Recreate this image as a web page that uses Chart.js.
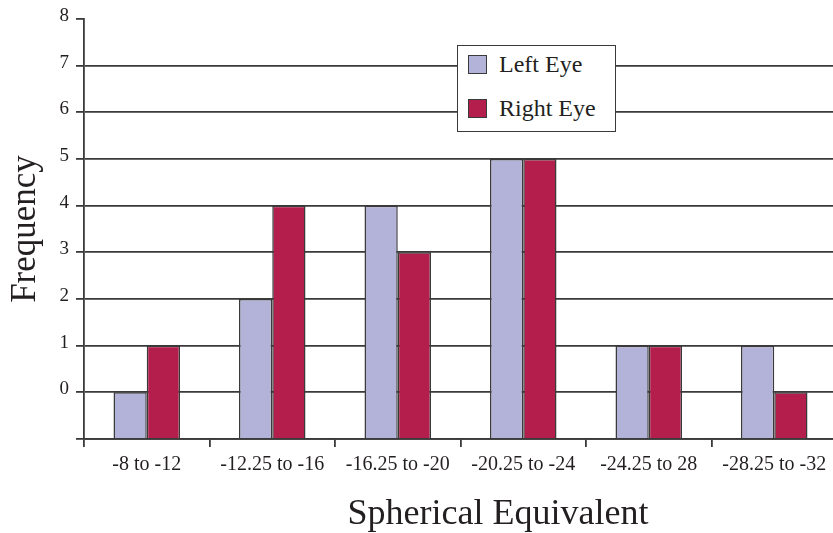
<!DOCTYPE html>
<html>
<head>
<meta charset="utf-8">
<script src="https://cdn.jsdelivr.net/npm/chart.js@4/dist/chart.umd.min.js"></script>
<style>
   body { margin: 0; background: #fff; overflow: hidden; }
   .wrap { position: relative; width: 833px; height: 533px; overflow: hidden; }
   #myChart { position: absolute; left: 0; top: 0; }
   .legend {
      position: absolute; left: 457px; top: 45px; width: 157px; height: 85px;
      border: 1.5px solid #3a3a3a; background: #fff;
      font-family: "Liberation Serif", serif; font-size: 24px; color: #231f20;
   }
   .legend .item { position: absolute; left: 10px; display: flex; align-items: center; }
   .legend .sw { width: 17px; height: 17px; border: 1.5px solid #3a3a3a; margin-right: 12px; }
   .xtitle {
      position: absolute; left: 298px; width: 400px; top: 494px; text-align: center;
      font-family: "Liberation Serif", serif; font-size: 36px; color: #231f20; line-height: 1;
   }
</style>
</head>
<body>
<div class="wrap">
   <canvas id="myChart" width="840" height="533"></canvas>
   <div class="legend"></div>
   <div class="xtitle">Spherical Equivalent</div>
</div>
<script>
// ==========================================
// Data
// ==========================================
const labels = ["-8 to -12", "-12.25 to -16", "-16.25 to -20", "-20.25 to -24", "-24.25 to 28", "-28.25 to -32"];
const leftEye = [0, 2, 4, 5, 1, 1];
const rightEye = [1, 4, 3, 5, 1, 0];
const seriesNames = ["Left Eye", "Right Eye"];
const colors = ["#b3b3d9", "#b31e4d"];

const ink = "#231f20";
const line = "#3a3a3a";
const serif = "'Liberation Serif', serif";

const ctx = document.getElementById("myChart");

let chart = new Chart(ctx, {
   type: "bar",
   data: {
      labels: labels,
      datasets: [leftEye, rightEye].map((d, i) => ({
         label: seriesNames[i],
         data: d,
         base: -1,
         backgroundColor: colors[i],
         borderColor: line,
         borderWidth: 1.5,
         categoryPercentage: 0.53,
         barPercentage: 1.0
      }))
   },
   options: {
      responsive: false,
      animation: false,
      layout: { padding: { top: 19, right: 3, left: 0, bottom: 0 } },
      plugins: { legend: { display: false }, tooltip: { enabled: false } },
      scales: {
         x: {
            afterFit: (s) => { s.height = 94; },
            grid: { offset: true, drawOnChartArea: false, tickLength: 8, color: line, lineWidth: 1.8 },
            border: { color: line, width: 1.8 },
            ticks: { color: ink, font: { family: serif, size: 20 }, padding: 6, maxRotation: 0, autoSkip: false }
         },
         y: {
            min: -1,
            max: 8,
            afterFit: (s) => { s.width = 84; },
            grid: {
               tickLength: 8,
               lineWidth: 1.8,
               color: (c) => (c.tick && c.tick.value == 8 ? "rgba(0,0,0,0)" : line),
               tickColor: line
            },
            border: { color: line, width: 1.8 },
            ticks: {
               stepSize: 1,
               color: ink,
               font: { family: serif, size: 19 },
               padding: 7,
               labelOffset: -3,
               callback: (v) => (v < 0 ? "" : v)
            },
            title: {
               display: true,
               text: "Frequency",
               color: ink,
               font: { family: serif, size: 35 },
               padding: { top: 5, bottom: 0 }
            }
         }
      }
   }
});

// legend
function buildLegend() {
   const box = document.querySelector(".legend");
   seriesNames.forEach((name, i) => {
      let item = document.createElement("DIV");
      item.classList.add("item");
      item.style.top = (i == 0 ? 5 : 49) + "px";
      let sw = document.createElement("DIV");
      sw.classList.add("sw");
      sw.style.background = colors[i];
      let txt = document.createElement("SPAN");
      txt.textContent = name;
      item.append(sw);
      item.append(txt);
      box.append(item);
   });
}
buildLegend();
</script>
</body>
</html>
